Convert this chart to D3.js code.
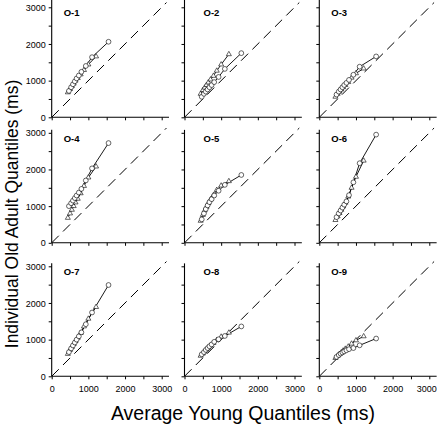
<!DOCTYPE html>
<html><head><meta charset="utf-8">
<script src="https://cdn.jsdelivr.net/npm/d3@7"></script>
<style>body{margin:0;background:#fff}svg{display:block}</style>
</head><body><svg id="c" width="437" height="427"></svg>
<script>
const panelNames = ["O-1","O-2","O-3","O-4","O-5","O-6","O-7","O-8","O-9"];
const circleX   = [470, 530, 580, 630, 680, 740, 810, 930, 1100, 1550];
const triangleX = [440, 500, 550, 600, 650, 710, 790, 880, 1000, 1210];
const circleY = [
  [720, 820, 900, 980, 1060, 1140, 1240, 1400, 1640, 2060],
  [560, 640, 700, 760, 820, 880, 960, 1100, 1320, 1750],
  [620, 700, 760, 820, 880, 940, 1020, 1160, 1380, 1660],
  [1000, 1080, 1150, 1220, 1290, 1370, 1470, 1700, 2030, 2720],
  [640, 800, 920, 1020, 1110, 1190, 1290, 1420, 1580, 1850],
  [700, 800, 880, 960, 1040, 1130, 1300, 1650, 2170, 2950],
  [660, 760, 840, 920, 1000, 1090, 1200, 1420, 1740, 2490],
  [600, 660, 720, 770, 820, 870, 940, 1010, 1100, 1360],
  [530, 580, 620, 650, 680, 710, 740, 770, 845, 1030]
];
const triangleY = [
  [680, 770, 850, 920, 1000, 1070, 1170, 1290, 1440, 1660],
  [640, 740, 810, 880, 950, 1030, 1130, 1270, 1440, 1720],
  [560, 640, 700, 760, 820, 880, 960, 1080, 1200, 1330],
  [680, 800, 900, 1000, 1100, 1200, 1350, 1550, 1780, 2080],
  [600, 760, 880, 980, 1080, 1180, 1300, 1440, 1560, 1680],
  [620, 720, 810, 900, 990, 1090, 1260, 1500, 1800, 2240],
  [610, 720, 800, 880, 960, 1050, 1180, 1360, 1570, 1890],
  [560, 620, 680, 730, 780, 840, 910, 990, 1080, 1190],
  [500, 560, 610, 650, 700, 750, 810, 890, 980, 1090]
];
const tickValues = [0, 500, 1000, 1500, 2000, 2500, 3000];
const labeledTicks = [0, 1000, 2000, 3000];
const xTitle = "Average Young Quantiles (ms)";
const yTitle = "Individual Old Adult Quantiles (ms)";

const FONT = "'Liberation Sans', Arial, Helvetica, sans-serif";
const svg = d3.select("#c");
const colX = [51.7, 184.5, 319.3];
const rowY = [117.3, 242.8, 376.3];
const size = 110;
const labelDx = [12, 19, 12];

panelNames.forEach((name, i) => {
  const col = i % 3, row = Math.floor(i / 3);
  const x = d3.scaleLinear().domain([0, 3000]).range([0, size]);
  const y = d3.scaleLinear().domain([0, 3000]).range([0, -size]);
  const g = svg.append("g").attr("transform", `translate(${colX[col]},${rowY[row]})`);

  const ax = d3.axisBottom(x).tickValues(tickValues).tickSize(3).tickSizeOuter(0)
    .tickFormat(d => (row === 2 && labeledTicks.includes(d)) ? d : "");
  const ay = d3.axisLeft(y).tickValues(tickValues).tickSize(3).tickSizeOuter(0)
    .tickFormat(d => (col === 0 && labeledTicks.includes(d)) ? d : "");
  const gx = g.append("g").call(ax);
  const gy = g.append("g").call(ay);
  [gx, gy].forEach(a => {
    a.select(".domain").remove();
    a.selectAll("line").attr("stroke", "#000").attr("stroke-width", 1);
    a.selectAll("text").attr("font-family", FONT).attr("font-size", 9).attr("fill", "#000");
  });
  gx.selectAll("text").attr("dy", "0").attr("y", 16);
  if (col === 2) {
    gx.selectAll(".tick").filter(d => d === 3000).select("text")
      .attr("text-anchor", "end").attr("x", 7);
  }
  gy.selectAll("text").attr("x", -6).attr("dy", "0.35em");
  g.append("line").attr("x1", 0).attr("x2", x(3200)).attr("y1", 0).attr("y2", 0)
    .attr("stroke", "#000").attr("stroke-width", 1.1);
  g.append("line").attr("x1", 0).attr("x2", 0).attr("y1", 0).attr("y2", y(row === 0 ? 3200 : 3080))
    .attr("stroke", "#000").attr("stroke-width", 1.1);

  g.append("line").attr("x1", x(0)).attr("y1", y(0)).attr("x2", x(3130)).attr("y2", y(3130))
    .attr("stroke", "#000").attr("stroke-width", 1).attr("stroke-dasharray", "10,6");

  const line = d3.line().x(d => x(d[0])).y(d => y(d[1]));
  const cData = circleX.map((v, k) => [v, circleY[i][k]]);
  const tData = triangleX.map((v, k) => [v, triangleY[i][k]]);
  g.append("path").attr("d", line(tData)).attr("fill", "none").attr("stroke", "#000").attr("stroke-width", 0.9);
  g.append("path").attr("d", line(cData)).attr("fill", "none").attr("stroke", "#000").attr("stroke-width", 0.9);

  const tri = d3.symbol().type(d3.symbolTriangle).size(11);
  g.selectAll(".t").data(tData).enter().append("path")
    .attr("d", tri).attr("transform", d => `translate(${x(d[0])},${y(d[1])})`)
    .attr("fill", "#fff").attr("stroke", "#000").attr("stroke-width", 0.6);
  g.selectAll(".c").data(cData).enter().append("circle")
    .attr("cx", d => x(d[0])).attr("cy", d => y(d[1])).attr("r", 2.4)
    .attr("fill", "#fff").attr("stroke", "#000").attr("stroke-width", 0.6);

  g.append("text").attr("x", labelDx[col]).attr("y", -size + 9).text(name)
    .attr("font-family", FONT).attr("font-size", 9.5).attr("font-weight", "bold");
});

svg.append("text").attr("x", 243).attr("y", 420).attr("text-anchor", "middle")
  .attr("font-family", FONT).attr("font-size", 19.5).text(xTitle);
svg.append("text").attr("transform", "translate(18,214) rotate(-90)").attr("text-anchor", "middle")
  .attr("font-family", FONT).attr("font-size", 17.5).text(yTitle);
</script></body></html>
